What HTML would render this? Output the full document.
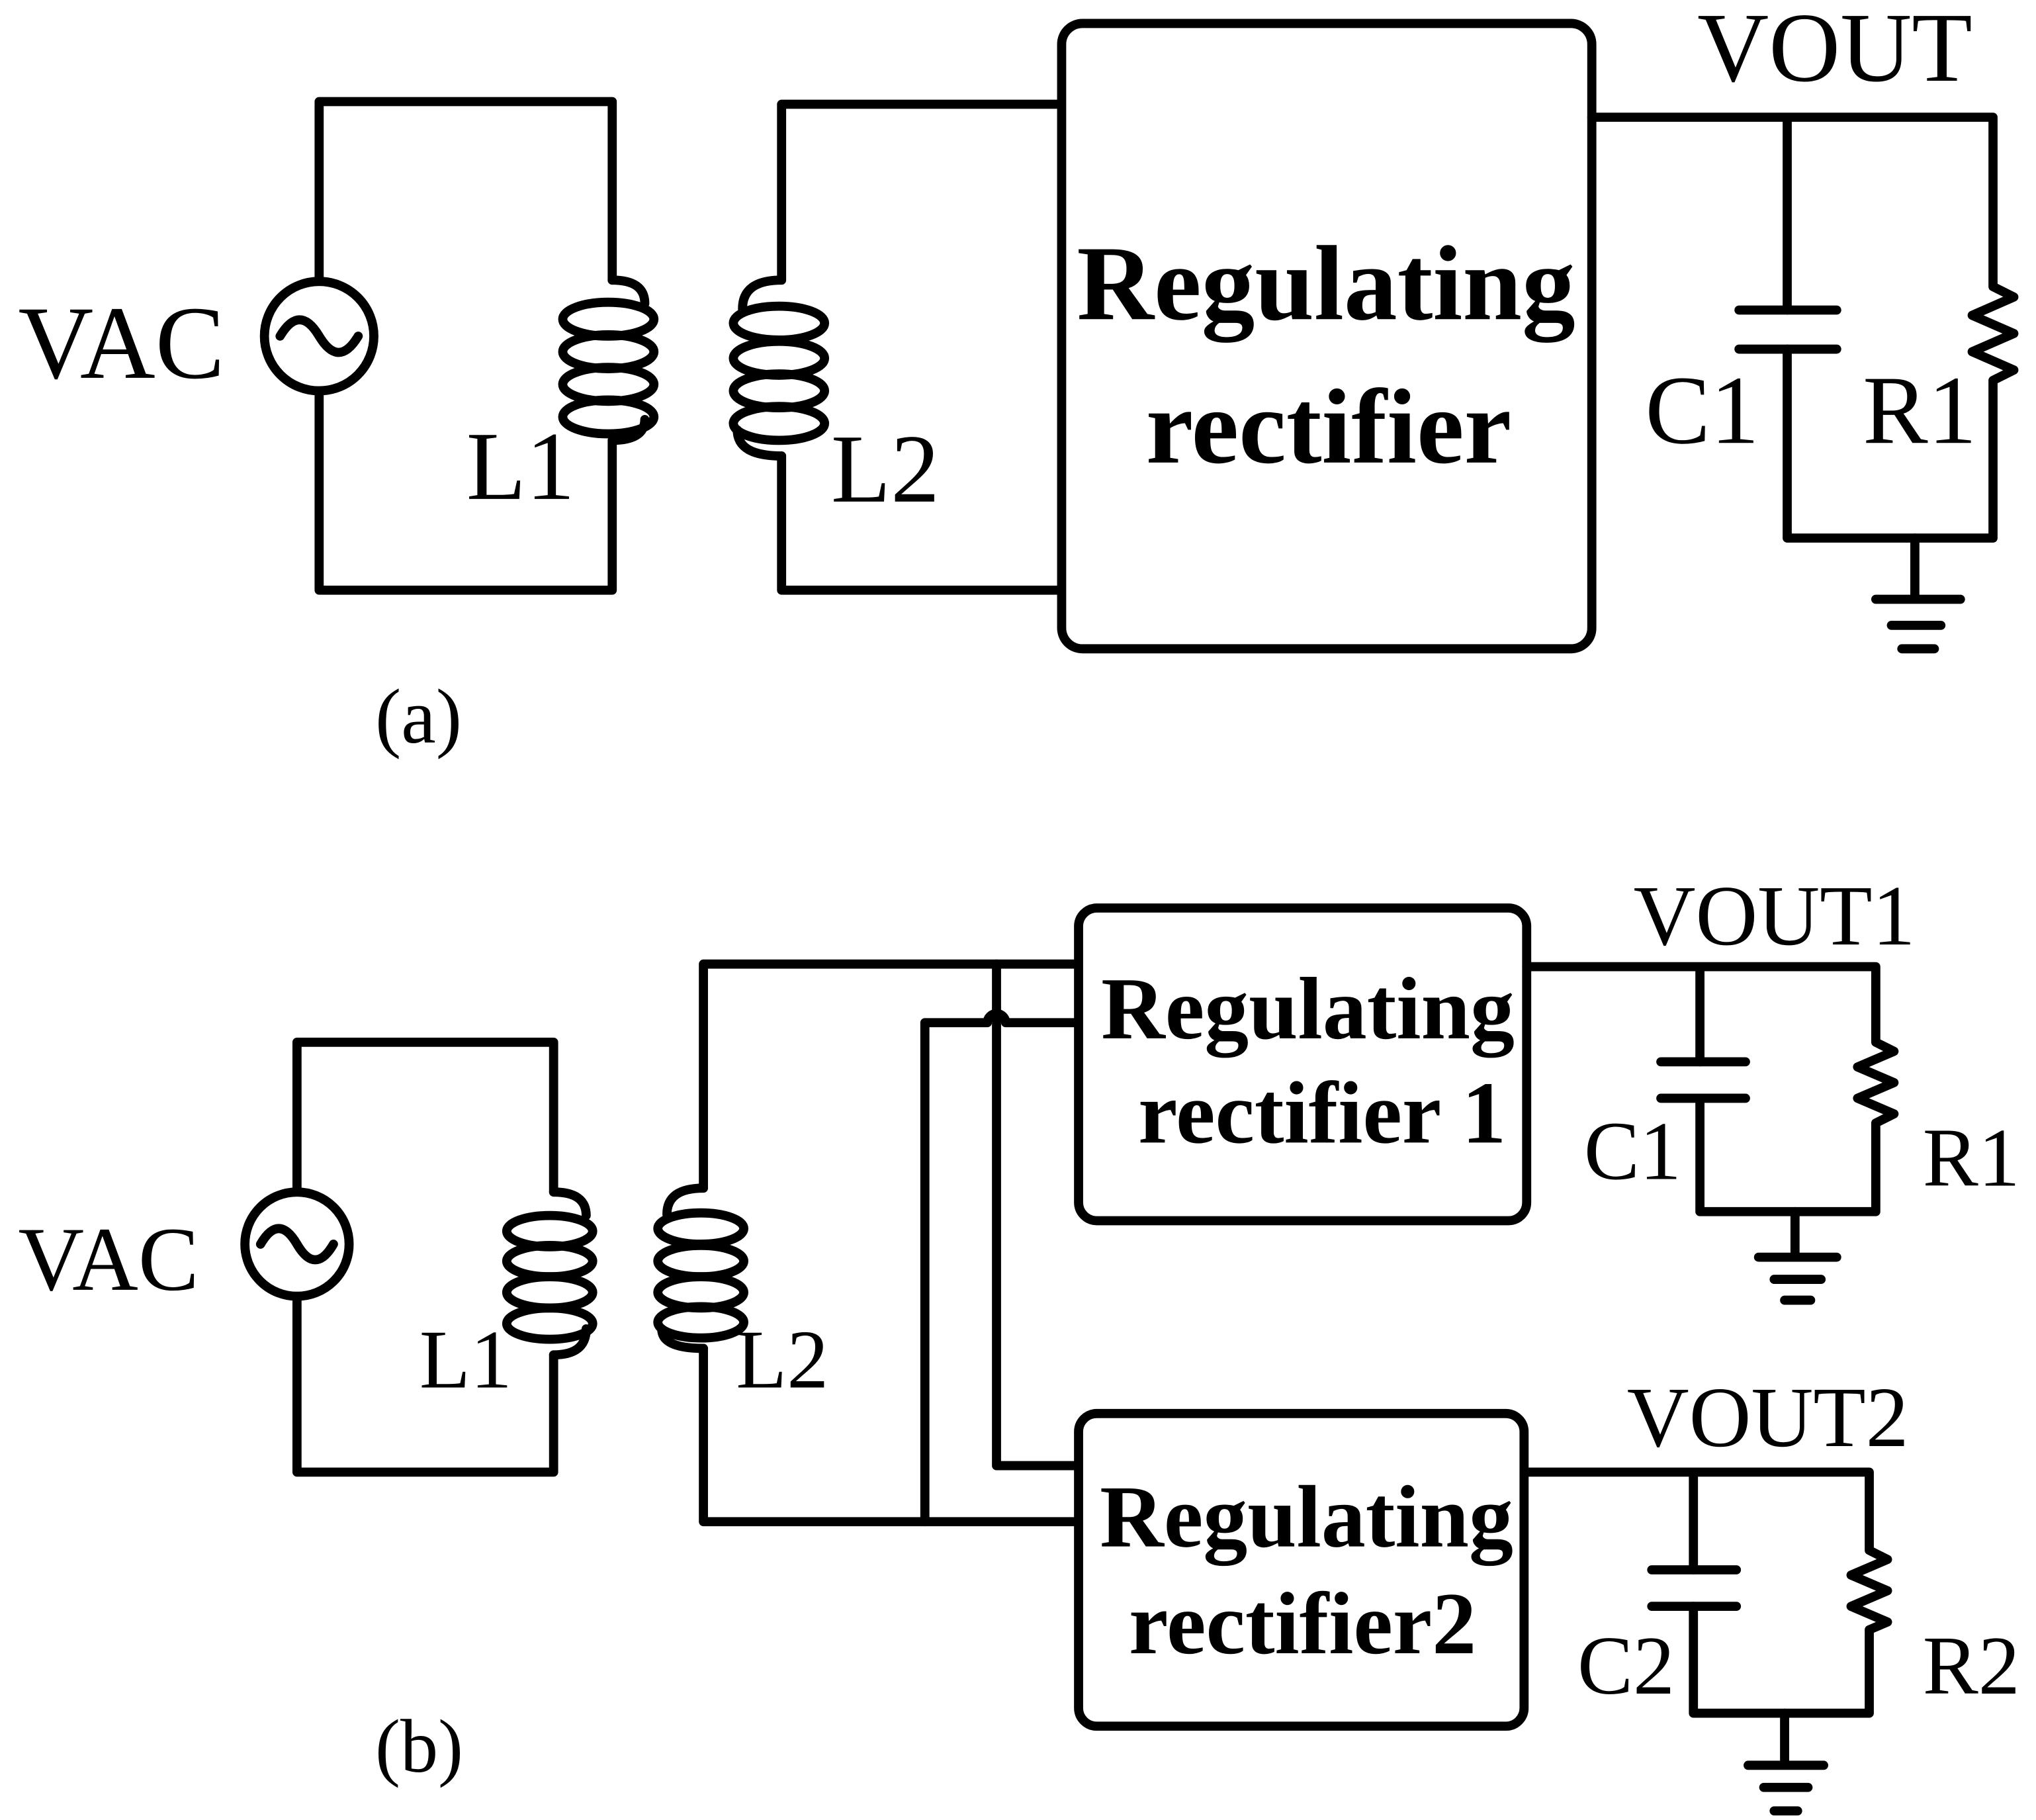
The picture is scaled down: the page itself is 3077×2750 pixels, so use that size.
<!DOCTYPE html>
<html><head><meta charset="utf-8"><style>
html,body{margin:0;padding:0;background:#fff}
svg{display:block}
text{font-family:"Liberation Serif",serif;fill:#000}
.b{font-weight:bold}
</style></head><body>
<svg width="3077" height="2750" viewBox="0 0 1563 1397" preserveAspectRatio="none" xmlns="http://www.w3.org/2000/svg">
<g fill="none" stroke="#000" stroke-width="7" stroke-linejoin="round" stroke-linecap="round">
<path d="M245 216 V78 H470 V215 M470 338 V453 H245 V300"/>
<circle cx="245" cy="258" r="42"/>
<path d="M215 258 q15 -25 30 0 t30 0"/>
<path d="M470 215 q25 0 25 18"/>
<ellipse cx="467" cy="245" rx="35" ry="13"/>
<ellipse cx="467" cy="270" rx="35" ry="13"/>
<ellipse cx="467" cy="295" rx="35" ry="13"/>
<ellipse cx="467" cy="320" rx="35" ry="13"/>
<path d="M495 322 q0 16 -25 16"/>
<path d="M812 80 H600 V215 M600 350 V453 H812"/>
<path d="M600 215 q-30 0 -30 22"/>
<ellipse cx="598" cy="248" rx="35" ry="13"/>
<ellipse cx="598" cy="275" rx="35" ry="13"/>
<ellipse cx="598" cy="300" rx="35" ry="13"/>
<ellipse cx="598" cy="325" rx="35" ry="13"/>
<path d="M566 330 q0 20 34 20"/>
<rect x="815" y="18" width="407" height="480" rx="16"/>
<path d="M1222 90 H1530 V220 l16 8 -32 14 32 14 -32 14 32 14 -16 8 V413 H1372 V268 M1372 90 V238"/>
<path d="M1335 238 H1410 M1335 268 H1410"/>
<path d="M1470 413 V460 M1440 460 H1505 M1452 480 H1490 M1460 498 H1485"/>
<path d="M228 915 V800 H425 V915 M425 1040 V1130 H228 V995"/>
<circle cx="228" cy="955" r="40"/>
<path d="M200 955 q14 -24 28 0 t28 0"/>
<path d="M425 915 q25 0 25 18"/>
<ellipse cx="422" cy="945" rx="33" ry="12"/>
<ellipse cx="422" cy="968" rx="33" ry="12"/>
<ellipse cx="422" cy="992" rx="33" ry="12"/>
<ellipse cx="422" cy="1016" rx="33" ry="12"/>
<path d="M450 1020 q0 20 -25 20"/>
<path d="M826 740 H540 V912 M540 1035 V1168 H826"/>
<path d="M540 912 q-28 0 -28 20"/>
<ellipse cx="538" cy="943" rx="33" ry="12"/>
<ellipse cx="538" cy="968" rx="33" ry="12"/>
<ellipse cx="538" cy="992" rx="33" ry="12"/>
<ellipse cx="538" cy="1015" rx="33" ry="12"/>
<path d="M508 1020 q0 15 32 15"/>
<path d="M710 1168 V785 H758 a7 7 0 0 1 14 0 H826"/>
<path d="M765 740 V1125 H826"/>
<rect x="828" y="697" width="344" height="240" rx="14"/>
<rect x="828" y="1085" width="342" height="240" rx="14"/>
<path d="M1172 742 H1440 V800 l14 7 -28 12 28 12 -28 12 28 12 -14 7 V930 H1305 V843 M1305 742 V815"/>
<path d="M1275 815 H1340 M1275 843 H1340"/>
<path d="M1378 930 V965 M1350 965 H1410 M1362 982 H1398 M1370 998 H1390"/>
<path d="M1170 1130 H1435 V1190 l14 7 -28 12 28 12 -28 12 28 12 -14 6 V1315 H1300 V1233 M1300 1130 V1205"/>
<path d="M1268 1205 H1333 M1268 1233 H1333"/>
<path d="M1370 1315 V1355 M1342 1355 H1400 M1354 1372 H1388 M1362 1390 H1380"/>
</g>
<g font-size="75">
<text x="14" y="290" font-size="80">VAC</text>
<text x="358" y="383">L1</text>
<text x="638" y="385">L2</text>
<text x="1303" y="62" font-size="76">VOUT</text>
<text x="1263" y="340">C1</text>
<text x="1430" y="340">R1</text>
<text x="288" y="570" font-size="60">(a)</text>
<text class="b" x="1018" y="245" font-size="82" text-anchor="middle">Regulating</text>
<text class="b" x="1020" y="355" font-size="82" text-anchor="middle">rectifier</text>
</g>
<g font-size="64">
<text x="14" y="990" font-size="70">VAC</text>
<text x="322" y="1065">L1</text>
<text x="565" y="1065">L2</text>
<text x="1254" y="725" font-size="66">VOUT1</text>
<text x="1216" y="905">C1</text>
<text x="1476" y="910">R1</text>
<text x="1249" y="1110" font-size="66">VOUT2</text>
<text x="1211" y="1300">C2</text>
<text x="1476" y="1300">R2</text>
<text x="288" y="1360" font-size="58">(b)</text>
<text class="b" x="1004" y="797" font-size="68" text-anchor="middle">Regulating</text>
<text class="b" x="1015" y="877" font-size="68" text-anchor="middle">rectifier 1</text>
<text class="b" x="1003" y="1187" font-size="68" text-anchor="middle">Regulating</text>
<text class="b" x="1000" y="1269" font-size="68" text-anchor="middle">rectifier2</text>
</g>
</svg>
</body></html>
